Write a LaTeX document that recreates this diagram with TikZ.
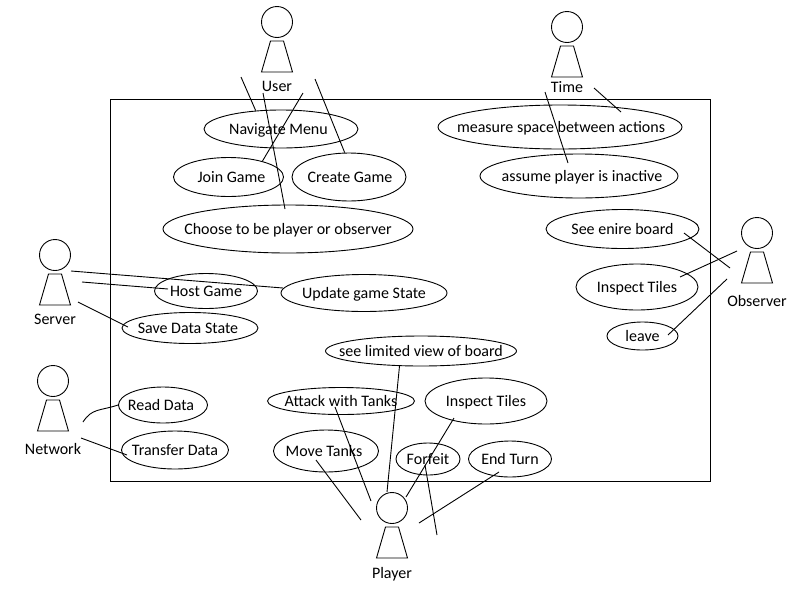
\documentclass[tikz,border=0pt]{standalone}
\usepackage{fontspec}
\setmainfont{Carlito}
\usetikzlibrary{shapes.geometric}
\tikzset{
  usecase/.style={draw,ellipse,inner sep=0pt,line width=0.9pt,text height=12pt,text depth=2pt,
    font=\fontsize{16}{18}\selectfont,
    execute at begin node=\hbox to 0pt\bgroup\hss,execute at end node=\hss\egroup},
  nudge/.style={execute at begin node=\kern#1},
  actorname/.style={inner sep=0pt,text height=11pt,text depth=3pt,font=\fontsize{16}{18}\selectfont},
  link/.style={line width=0.9pt}
}
\newcommand{\actorfig}[5]{
  \node[draw,circle,minimum size=31,inner sep=0pt,line width=0.9pt] (#1) at (#2,#3) {};
  \draw[line width=0.9pt] (#2-6.5,#3+19) -- (#2+6.5,#3+19) -- (#2+15.5,#3+50) -- (#2-15.5,#3+50) -- cycle;
  \node[actorname] (#1name) at (#2,#5) {#4};
}
\begin{document}
\begin{tikzpicture}[x=1pt,y=-1pt]
\useasboundingbox (0,0) rectangle (800,600);
\draw[line width=0.9pt] (110,99) rectangle (710,481);

\actorfig{user}{277}{22}{User}{87}
\actorfig{time}{567}{27}{Time}{88}
\actorfig{observer}{757}{233}{Observer}{302}
\actorfig{server}{55}{255}{Server}{320}
\actorfig{network}{53}{381}{Network}{450}
\actorfig{player}{392}{508}{Player}{574}

\node[usecase,nudge=-5pt,minimum width=154,minimum height=38] (navigate) at (281,129) {Navigate Menu};
\node[usecase,nudge=6pt,minimum width=110,minimum height=39] (join) at (228.5,177) {Join Game};
\node[usecase,nudge=2pt,minimum width=114,minimum height=48] (create) at (349,177) {Create Game};
\node[usecase,minimum width=250,minimum height=48] (choose) at (288,229) {Choose to be player or observer};
\node[usecase,nudge=2pt,minimum width=244,minimum height=44] (measure) at (560,127) {measure space between actions};
\node[usecase,nudge=6pt,minimum width=198,minimum height=44] (assume) at (579,176) {assume player is inactive};
\node[usecase,minimum width=153,minimum height=39] (board) at (622.5,229) {See enire board};
\node[usecase,minimum width=122,minimum height=46] (tilesobs) at (637,287) {Inspect Tiles};
\node[usecase,minimum width=71,minimum height=28] (leave) at (642.5,336) {leave};
\node[usecase,minimum width=166,minimum height=37] (update) at (364,293) {Update game State};
\node[usecase,minimum width=103,minimum height=35] (host) at (206,291) {Host Game};
\node[usecase,nudge=-4pt,minimum width=136,minimum height=31] (save) at (190,328) {Save Data State};
\node[usecase,minimum width=191,minimum height=30] (limited) at (421,351) {see limited view of board};
\node[usecase,nudge=-4pt,minimum width=89,minimum height=36] (read) at (163,405) {Read Data};
\node[usecase,minimum width=107,minimum height=38] (transfer) at (175,450) {Transfer Data};
\node[usecase,minimum width=147,minimum height=27] (attack) at (341,401) {Attack with Tanks};
\node[usecase,minimum width=122,minimum height=46] (tilesplay) at (486,401) {Inspect Tiles};
\node[usecase,nudge=-4pt,minimum width=105,minimum height=42] (move) at (326,451) {Move Tanks};
\node[usecase,minimum width=64,minimum height=32] (forfeit) at (428,459) {Forfeit};
\node[usecase,minimum width=83,minimum height=36] (endturn) at (510,459) {End Turn};

\coordinate (u1) at (241,77);
\coordinate (u2) at (263,93);
\coordinate (u3) at (303,93);
\coordinate (u4) at (315,79);
\coordinate (u5) at (285,209);
\coordinate (t1) at (545,92);
\coordinate (t2) at (594,88);
\coordinate (t3) at (568,163);
\coordinate (t4) at (621,112);
\coordinate (o1) at (730,268);
\coordinate (o2) at (737,251);
\coordinate (o3) at (727,279);
\coordinate (o4) at (684,233);
\coordinate (o5) at (680,277);
\coordinate (o6) at (668,335);
\coordinate (s1) at (71,271);
\coordinate (s2) at (82,282);
\coordinate (s3) at (78,302);
\coordinate (s4) at (168,289);
\coordinate (s5) at (128,327);
\coordinate (s6) at (283,288);
\coordinate (n1) at (83,422);
\coordinate (n2) at (81,438);
\coordinate (n3) at (127,455);
\coordinate (p1) at (361,520);
\coordinate (p2) at (371,501);
\coordinate (p3) at (387,492);
\coordinate (p4) at (406,497);
\coordinate (p5) at (437,535);
\coordinate (p6) at (419,523);
\coordinate (p7) at (316,460);
\coordinate (p8) at (335,407);
\coordinate (p9) at (454,418);
\coordinate (p10) at (425,465);
\coordinate (p11) at (499,472);

\draw[link] (u1) -- (navigate.144);
\draw[link] (u2) -- (u5);
\draw[link] (u3) -- (join.25);
\draw[link] (u4) -- (create.100);

\draw[link] (t1) -- (t3);
\draw[link] (t2) -- (t4);

\draw[link] (o4) -- (o1);
\draw[link] (o2) -- (o5);
\draw[link] (o3) -- (o6);

\draw[link] (s1) -- (s6);
\draw[link] (s2) -- (s4);
\draw[link] (s3) -- (s5);

\draw[link] (n1) .. controls (92,408) and (100,411) .. (read.180);
\draw[link] (n2) -- (n3);

\draw[link] (p1) -- (p7);
\draw[link] (p2) -- (p8);
\draw[link] (p3) -- (limited.-145);
\draw[link] (p4) -- (p9);
\draw[link] (p5) -- (p10);
\draw[link] (p6) -- (p11);
\end{tikzpicture}
\end{document}
